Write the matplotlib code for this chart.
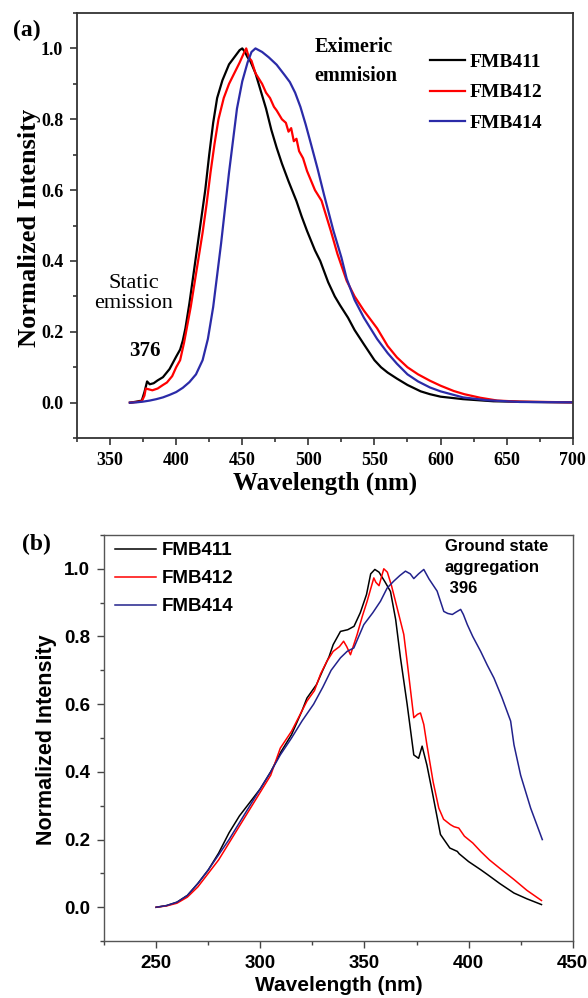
import matplotlib
matplotlib.use("Agg")
import matplotlib.pyplot as plt
from matplotlib.ticker import MultipleLocator

# ---------------- Panel (a): emission spectra ----------------
wl_a_411 = [365, 370, 374, 376, 378, 380, 383, 386, 390, 395, 400, 403, 405, 407, 410, 413,
            416, 419, 422, 425, 428, 431, 435, 440, 445, 448, 450, 452, 454, 456,
            460, 464, 468, 472, 476, 480, 485, 491, 495, 499, 505, 509, 515, 520, 524, 530,
            535, 542, 550, 555, 560, 567, 575, 585, 592, 600, 617, 640, 670, 700]
int_a_411 = [0.0, 0.003, 0.006, 0.03, 0.06, 0.052, 0.055, 0.063, 0.072, 0.095, 0.13, 0.15, 0.175, 0.21, 0.28, 0.36,
             0.44, 0.52, 0.60, 0.70, 0.79, 0.86, 0.91, 0.955, 0.98, 0.995, 1.0, 0.99, 0.975, 0.965,
             0.93, 0.88, 0.83, 0.77, 0.72, 0.675, 0.625, 0.569, 0.525, 0.485, 0.43, 0.40, 0.34, 0.30, 0.275, 0.24,
             0.205, 0.165, 0.12, 0.10, 0.085, 0.068, 0.05, 0.032, 0.024, 0.017, 0.01, 0.004, 0.002, 0.001]

wl_a_412 = [365, 370, 374, 376, 377, 379, 382, 386, 390, 393, 397, 400, 403, 406, 408, 411,
            414, 417, 420, 423, 426, 429, 432, 436, 440, 444, 448, 451, 453, 455,
            457, 460, 465, 468, 471, 474, 476, 480, 483, 485, 487, 489, 491, 493, 496, 499,
            505, 510, 517, 522, 529, 535, 542, 552, 560, 567, 575, 583, 592, 600, 610, 618,
            630, 643, 660, 700]
int_a_412 = [0.0, 0.002, 0.004, 0.02, 0.04, 0.038, 0.035, 0.04, 0.05, 0.057, 0.075, 0.10, 0.12, 0.17, 0.21, 0.27,
             0.34, 0.41, 0.48, 0.56, 0.65, 0.73, 0.80, 0.86, 0.90, 0.93, 0.96, 0.985, 1.0, 0.975,
             0.965, 0.93, 0.90, 0.875, 0.86, 0.835, 0.825, 0.80, 0.79, 0.765, 0.775, 0.738, 0.745, 0.71, 0.69, 0.654,
             0.60, 0.57, 0.485, 0.42, 0.344, 0.30, 0.26, 0.21, 0.16, 0.128, 0.10, 0.08, 0.062, 0.048, 0.033, 0.024,
             0.014, 0.006, 0.003, 0.001]

wl_a_414 = [365, 370, 375, 380, 385, 390, 395, 400, 405, 410, 415, 420, 424, 428, 431, 434,
            437, 440, 443, 446, 450, 454, 457, 460, 465, 470, 476, 482, 486, 490, 494, 498, 502,
            507, 512, 519, 525, 529, 535, 542, 552, 560, 567, 575, 583, 592, 600, 617, 635,
            660, 700]
int_a_414 = [0.0, 0.001, 0.003, 0.006, 0.01, 0.015, 0.022, 0.03, 0.042, 0.058, 0.08, 0.12, 0.18, 0.27, 0.36, 0.45,
             0.55, 0.65, 0.74, 0.83, 0.907, 0.96, 0.99, 1.0, 0.99, 0.975, 0.954, 0.925, 0.905, 0.875, 0.835, 0.785, 0.73,
             0.66, 0.585, 0.485, 0.41, 0.35, 0.29, 0.24, 0.18, 0.14, 0.11, 0.08, 0.06, 0.043, 0.032, 0.015, 0.007,
             0.002, 0.001]

# ---------------- Panel (b): excitation spectra ----------------
wl_b_411 = [250, 255, 260, 265, 270, 275, 280, 285, 290, 295, 300, 305, 310, 315, 320, 322.4,
            327, 330, 333, 335, 338.5, 342, 345, 348, 351, 353, 355, 357, 360, 362.5, 365, 367.3,
            370.5, 373.7, 376, 377.7, 380, 382.5, 386.5, 391, 394.6, 395.5, 400, 405.8, 409, 415,
            421.8, 428, 435]
int_b_411 = [0.0, 0.005, 0.015, 0.035, 0.07, 0.11, 0.16, 0.22, 0.27, 0.31, 0.35, 0.40, 0.46, 0.51, 0.58, 0.618,
             0.658, 0.70, 0.74, 0.776, 0.815, 0.82, 0.83, 0.87, 0.924, 0.985, 0.998, 0.99, 0.96, 0.933, 0.85, 0.737,
             0.60, 0.45, 0.44, 0.476, 0.42, 0.343, 0.215, 0.175, 0.165, 0.158, 0.135, 0.111, 0.097, 0.07,
             0.042, 0.025, 0.008]

wl_b_412 = [250, 255, 260, 265, 270, 275, 280, 285, 290, 295, 300, 305, 309.6, 315, 320, 322.4,
            326, 329, 332, 335, 338, 340, 341.5, 343.3, 346.5, 349, 351.3, 354.5, 355.5, 357, 359.3, 361,
            363, 364.9, 368.9, 371, 373.7, 375.5, 376.9, 378.5, 380, 383, 385.7, 388, 391.3, 393, 395.3,
            398, 402, 405.8, 410, 415, 421.8, 428, 435]
int_b_412 = [0.0, 0.004, 0.012, 0.03, 0.06, 0.10, 0.14, 0.19, 0.24, 0.29, 0.34, 0.39, 0.47, 0.52, 0.58, 0.609,
             0.64, 0.69, 0.727, 0.756, 0.77, 0.786, 0.77, 0.746, 0.806, 0.86, 0.904, 0.973, 0.96, 0.95, 1.0, 0.99,
             0.95, 0.904, 0.806, 0.70, 0.56, 0.57, 0.574, 0.54, 0.48, 0.37, 0.293, 0.26, 0.244, 0.238, 0.234,
             0.21, 0.19, 0.165, 0.14, 0.115, 0.082, 0.05, 0.02]

wl_b_414 = [250, 255, 260, 265, 270, 275, 280, 285, 290, 295, 300, 305, 309.6, 315, 320, 325.6,
            330, 334, 338.5, 341.7, 344.9, 349.7, 354, 357.7, 360.9, 364, 367, 369.7, 372, 373.7, 376,
            378.5, 381, 384.9, 388.1, 390, 392.2, 394, 396.2, 397.5, 399.4, 402, 405.8, 409, 412.2, 416,
            420.2, 421.8, 425, 429.8, 433, 435.4]
int_b_414 = [0.0, 0.005, 0.015, 0.035, 0.07, 0.11, 0.155, 0.20, 0.25, 0.30, 0.35, 0.40, 0.45, 0.50, 0.55, 0.60,
             0.65, 0.70, 0.737, 0.756, 0.766, 0.835, 0.87, 0.904, 0.943, 0.963, 0.98, 0.993, 0.985, 0.971, 0.985,
             0.998, 0.97, 0.934, 0.874, 0.868, 0.865, 0.872, 0.88, 0.865, 0.835, 0.80, 0.756, 0.715, 0.677, 0.62,
             0.55, 0.48, 0.39, 0.293, 0.24, 0.20]

series_names = ["FMB411", "FMB412", "FMB414"]
x_ticks_a = [350, 400, 450, 500, 550, 600, 650, 700]
x_ticks_b = [250, 300, 350, 400, 450]
y_ticks = [0.0, 0.2, 0.4, 0.6, 0.8, 1.0]

SERIF = "Liberation Serif"
SANS = "Liberation Sans"

fig = plt.figure(figsize=(5.88, 9.98), dpi=100)

# ---- (a) ----
ax1 = fig.add_axes([0.131, 0.561, 0.843, 0.426])
colors_a = ["#000000", "#ff0000", "#2b2ba8"]
for wl, val, c, name in zip([wl_a_411, wl_a_412, wl_a_414],
                            [int_a_411, int_a_412, int_a_414], colors_a, series_names):
    ax1.plot(wl, val, color=c, lw=1.6, label=name)
ax1.set_xlim(325, 700)
ax1.set_ylim(-0.1, 1.1)
ax1.set_xticks(x_ticks_a)
ax1.set_yticks(y_ticks)
ax1.set_yticklabels(["%.1f" % v for v in y_ticks])
ax1.xaxis.set_minor_locator(MultipleLocator(25))
ax1.yaxis.set_minor_locator(MultipleLocator(0.1))
ax1.tick_params(which="both", direction="out", top=False, right=False, width=1.2, color="#333333")
ax1.tick_params(which="major", length=5, pad=5)
ax1.tick_params(which="minor", length=3)
for lab in ax1.get_xticklabels() + ax1.get_yticklabels():
    lab.set_fontfamily(SERIF)
    lab.set_fontweight("bold")
    lab.set_fontsize(13)
for sp in ax1.spines.values():
    sp.set_linewidth(1.3)
    sp.set_color("#333333")
ax1.set_xlabel("Wavelength (nm)", family=SERIF, weight="bold", fontsize=18, labelpad=2)
ax1.set_ylabel("Normalized Intensity", family=SERIF, weight="bold", fontsize=19)
ax1.yaxis.set_label_coords(-0.072, 0.494)
ax1.legend(loc="upper right", bbox_to_anchor=(0.975, 0.947), frameon=False,
           prop={"family": SERIF, "weight": "bold", "size": 14},
           handlelength=1.8, handletextpad=0.25, labelspacing=0.68)
ax1.text(0.115, 0.34, "Static\nemission", transform=ax1.transAxes, family=SERIF,
         fontsize=16, ha="center", va="center", linespacing=1.1)
ax1.text(376, 0.145, "376", family=SERIF, weight="bold", fontsize=15, ha="center", va="center")
ax1.text(0.479, 0.886, "Eximeric\nemmision", transform=ax1.transAxes, family=SERIF,
         weight="bold", fontsize=14.5, ha="left", va="center", linespacing=1.6)
fig.text(0.045, 0.969, "(a)", family=SERIF, weight="bold", fontsize=17, ha="center", va="center")

# ---- (b) ----
ax2 = fig.add_axes([0.177, 0.057, 0.797, 0.407])
colors_b = ["#000000", "#ff0000", "#22228c"]
for wl, val, c, name in zip([wl_b_411, wl_b_412, wl_b_414],
                            [int_b_411, int_b_412, int_b_414], colors_b, series_names):
    ax2.plot(wl, val, color=c, lw=1.1, label=name)
ax2.set_xlim(225, 450)
ax2.set_ylim(-0.1, 1.1)
ax2.set_xticks(x_ticks_b)
ax2.set_yticks(y_ticks)
ax2.set_yticklabels(["%.1f" % v for v in y_ticks])
ax2.xaxis.set_minor_locator(MultipleLocator(25))
ax2.yaxis.set_minor_locator(MultipleLocator(0.1))
ax2.tick_params(which="both", direction="out", top=False, right=False, width=1.0, color="#444444")
ax2.tick_params(which="major", length=5, pad=5)
ax2.tick_params(which="minor", length=3)
for lab in ax2.get_xticklabels() + ax2.get_yticklabels():
    lab.set_fontfamily(SANS)
    lab.set_fontweight("bold")
    lab.set_fontsize(13.5)
for sp in ax2.spines.values():
    sp.set_linewidth(1.0)
    sp.set_color("#555555")
ax2.set_xlabel("Wavelength (nm)", family=SANS, weight="bold", fontsize=15, labelpad=3)
ax2.set_ylabel("Normalized Intensity", family=SANS, weight="bold", fontsize=15.5)
ax2.yaxis.set_label_coords(-0.1, 0.495)
ax2.legend(loc="upper left", bbox_to_anchor=(-0.013, 1.024), frameon=False,
           prop={"family": SANS, "weight": "bold", "size": 13.5},
           handlelength=2.2, handletextpad=0.3, labelspacing=0.58)
ax2.text(0.727, 0.99, "Ground state\naggregation\n 396", transform=ax2.transAxes, family=SANS,
         weight="bold", fontsize=12, ha="left", va="top", linespacing=1.5)
fig.text(0.062, 0.454, "(b)", family=SERIF, weight="bold", fontsize=17, ha="center", va="center")

fig.savefig("out.png", dpi=100)
